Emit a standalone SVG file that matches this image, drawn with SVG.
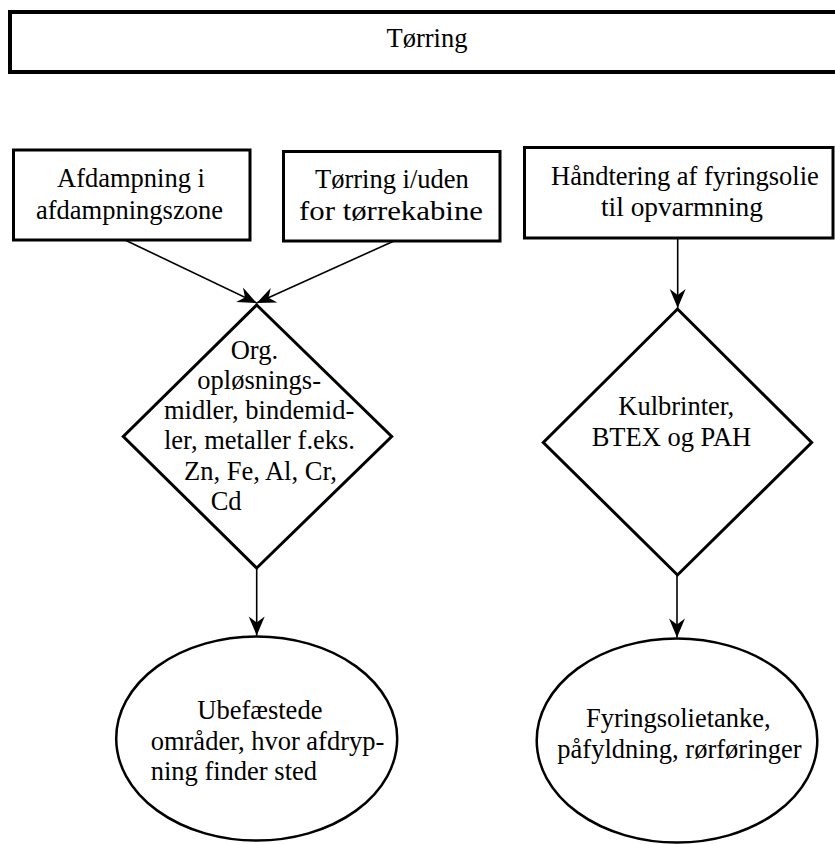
<svg xmlns="http://www.w3.org/2000/svg" width="835" height="844" viewBox="0 0 835 844">
  <style>
    .box { fill: #fff; stroke: #000; stroke-width: 3; }
    .title { fill: #fff; stroke: #000; stroke-width: 4; }
    .dia { fill: #fff; stroke: #000; stroke-width: 3; }
    .ell { fill: #fff; stroke: #000; stroke-width: 2.5; }
    .edge { fill: none; stroke: #000; stroke-width: 1.6; marker-end: url(#head); }
    text { font-family: "Liberation Serif", "Times New Roman", serif; font-size: 26.5px; fill: #000; }
  </style>
  <defs>
    <marker id="head" markerUnits="userSpaceOnUse" viewBox="-20 -9 21 18" refX="0" refY="0" markerWidth="21" markerHeight="18" orient="auto">
      <path d="M0,0 L-19,-8 L-13,0 L-19,8 Z" fill="#000"/>
    </marker>
  </defs>
  <rect width="835" height="844" fill="#fff"/>

  <!-- heading bar, runs off the right edge -->
  <g id="torring">
    <rect class="title" x="10" y="12" width="840" height="60"/>
    <text x="386.5" y="46.5">Tørring</text>
  </g>

  <!-- source boxes -->
  <g id="afdampning">
    <rect class="box" x="13.5" y="150" width="236.5" height="90"/>
    <text x="57" y="187">Afdampning i</text>
    <text x="36" y="219">afdampningszone</text>
  </g>

  <g id="torring-kabine">
    <rect class="box" x="283.5" y="151.5" width="216.5" height="89.5"/>
    <text x="315" y="188">Tørring i/uden</text>
    <text x="299" y="219.5" textLength="184" lengthAdjust="spacingAndGlyphs">for tørrekabine</text>
  </g>

  <g id="fyringsolie">
    <rect class="box" x="524.5" y="147.5" width="308.5" height="90.5"/>
    <text x="551" y="185">Håndtering af fyringsolie</text>
    <text x="601" y="215.5" textLength="162" lengthAdjust="spacingAndGlyphs">til opvarmning</text>
  </g>

  <!-- substances -->
  <g id="stoffer-venstre">
    <polygon class="dia" points="256.7,305 391.7,436.5 256.7,568 123.3,436.5"/>
    <text x="230.7" y="358.5">Org.</text>
    <text x="197.3" y="388.5">opløsnings-</text>
    <text x="164" y="419">midler, bindemid-</text>
    <text x="164" y="449">ler, metaller f.eks.</text>
    <text x="184" y="479.5">Zn, Fe, Al, Cr,</text>
    <text x="210.7" y="510">Cd</text>
  </g>

  <g id="stoffer-hoejre">
    <polygon class="dia" points="677.5,309 811.7,442.5 677.5,575 543.3,442.5"/>
    <text x="618.3" y="415">Kulbrinter,</text>
    <text x="591.7" y="446">BTEX og PAH</text>
  </g>

  <!-- receiving areas -->
  <g id="ubefaestede">
    <ellipse class="ell" cx="256.7" cy="738.5" rx="140.5" ry="102"/>
    <text x="197.3" y="718.5">Ubefæstede</text>
    <text x="150.7" y="750">områder, hvor afdryp-</text>
    <text x="150.7" y="780">ning finder sted</text>
  </g>

  <g id="tanke">
    <ellipse class="ell" cx="677" cy="740.5" rx="140.3" ry="102"/>
    <text x="586" y="726.7">Fyringsolietanke,</text>
    <text x="557.3" y="758.3">påfyldning, rørføringer</text>
  </g>

  <g id="connectors">
    <line class="edge" x1="125" y1="240" x2="256.7" y2="303"/>
    <line class="edge" x1="394" y1="241" x2="256.7" y2="303"/>
    <line class="edge" x1="677.7" y1="238" x2="677.7" y2="308"/>
    <line class="edge" x1="256.7" y1="568" x2="256.7" y2="635.5"/>
    <line class="edge" x1="677" y1="575" x2="677" y2="637.5"/>
  </g>
</svg>
